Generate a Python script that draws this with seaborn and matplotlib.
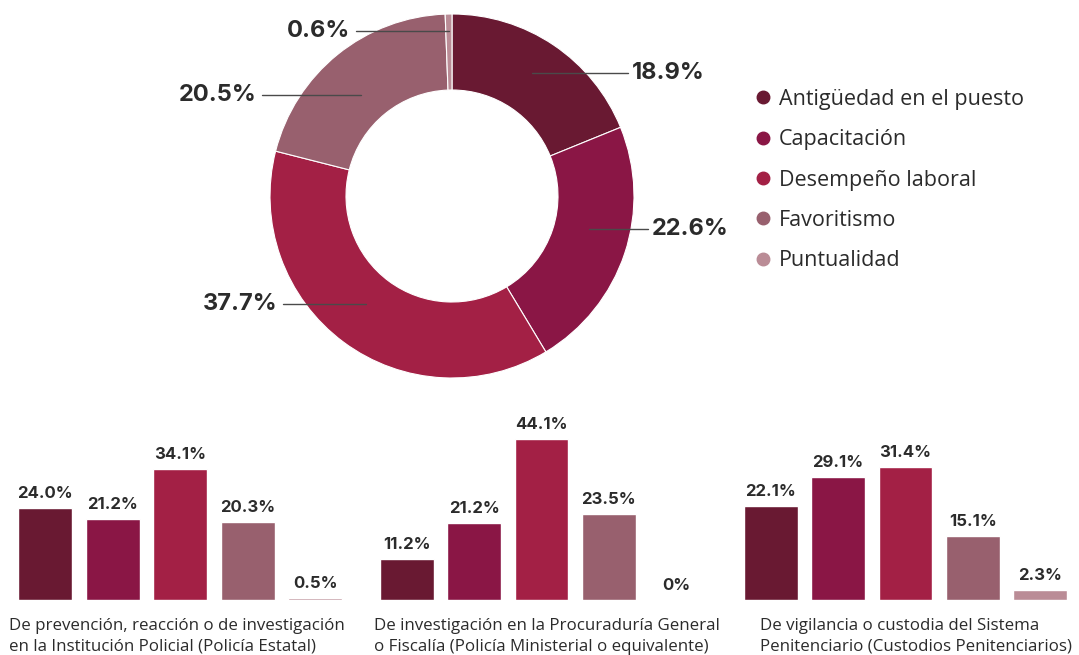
import matplotlib
matplotlib.use("Agg")
import matplotlib.pyplot as plt
from matplotlib.lines import Line2D
import numpy as np
import pandas as pd
import seaborn as sns

# ---- data -----------------------------------------------------------------
categories = ["Antigüedad en el puesto", "Capacitación", "Desempeño laboral",
              "Favoritismo", "Puntualidad"]
colors = ["#691932", "#8A1645", "#A32045", "#98606E", "#BA8C96"]

total_values = [18.9, 22.6, 37.7, 20.5, 0.6]

panel_titles = [
    "De prevención, reacción o de investigación\nen la Institución Policial (Policía Estatal)",
    "De investigación en la Procuraduría General\no Fiscalía (Policía Ministerial o equivalente)",
    "De vigilancia o custodia del Sistema\nPenitenciario (Custodios Penitenciarios)",
]
estatal_values = [24.0, 21.2, 34.1, 20.3, 0.5]
ministerial_values = [11.2, 21.2, 44.1, 23.5, 0.0]
custodios_values = [22.1, 29.1, 31.4, 15.1, 2.3]
panel_values = [estatal_values, ministerial_values, custodios_values]

# ---- style ----------------------------------------------------------------
sns.set_theme(style="white")
plt.rcParams["font.family"] = ["Open Sans", "DejaVu Sans"]
BOLD = ["Inter", "DejaVu Sans"]
TEXT = "#2b2b2b"

W, H = 1079, 655
fig = plt.figure(figsize=(W / 100, H / 100), dpi=100)
fig.patch.set_facecolor("white")


def fx(x):
    return x / W


def fy(y):
    return 1 - y / H


# ---- donut ----------------------------------------------------------------
ax0 = fig.add_axes([0, 0, 1, 1])
cx, cy = 452, H - 196
r_out, r_in = 182, 106
wedges, _ = ax0.pie(total_values, colors=colors, startangle=90, counterclock=False,
                    center=(cx, cy), radius=r_out, frame=True,
                    wedgeprops=dict(width=r_out - r_in, edgecolor="white", linewidth=0.8))
ax0.set_xlim(0, W)
ax0.set_ylim(0, H)
ax0.axis("off")

# label placement: (vertical position of label, line start x, side)
label_layout = [(73, 628, "left"), (229, 648, "left"), (304, 283, "right"),
                (95, 262, "right"), (31, 356, "right")]
r_mid = (r_out + r_in) / 2
for w, val, (ly, lx, side) in zip(wedges, total_values, label_layout):
    ang = np.deg2rad((w.theta1 + w.theta2) / 2)
    ax_ = cx + r_mid * np.cos(ang)
    y_ = H - ly
    ax0.plot([lx, ax_], [y_, y_], color="#4a4a4a", lw=1.0)
    if side == "left":
        ax0.text(lx + 4, y_, f"{val:.1f}%", ha="left", va="center",
                 fontsize=17, fontweight="bold", family=BOLD, color=TEXT)
    else:
        ax0.text(lx - 6, y_, f"{val:.1f}%", ha="right", va="center",
                 fontsize=17, fontweight="bold", family=BOLD, color=TEXT)

handles = [Line2D([], [], marker="o", linestyle="", markersize=9,
                  markerfacecolor=c, markeredgecolor=c) for c in colors]
ax0.legend(handles, categories, loc="upper left",
           bbox_to_anchor=(fx(743), fy(78)), bbox_transform=fig.transFigure,
           frameon=False, fontsize=15.5, labelspacing=0.9, handletextpad=0.25,
           handlelength=0.9, borderpad=0, labelcolor=TEXT)

# ---- bar panels -----------------------------------------------------------
panel_boxes = [(11.5, 349, 469), (373, 710, 439), (737, 1074, 467)]
caption_shift = [-3, 5, 10]
base_y = 600
for vals, title, (x0, x1, ytop), dx in zip(panel_values, panel_titles,
                                           panel_boxes, caption_shift):
    ax = fig.add_axes([fx(x0), fy(base_y), (x1 - x0) / W, (base_y - ytop) / H])
    df = pd.DataFrame({"cat": categories, "val": vals})
    sns.barplot(data=df, x="cat", y="val", hue="cat", palette=colors,
                legend=False, width=0.8, saturation=1, ax=ax)
    ax.set_ylim(0, max(vals))
    ax.set_xlim(-0.5, len(vals) - 0.5)
    ax.axis("off")
    for cont in ax.containers:
        ax.bar_label(cont, labels=[("0%" if v == 0 else f"{v:.1f}%") for v in cont.datavalues],
                     padding=5, fontsize=12, fontweight="bold", family=BOLD,
                     color=TEXT, clip_on=False)
    ax.annotate(title, xy=(0.5, 0), xycoords="axes fraction",
                xytext=(dx * 0.72, -13), textcoords="offset points", ha="center", va="top",
                multialignment="left", fontsize=12.2, color=TEXT, linespacing=1.38)

fig.savefig("out.png", dpi=100, facecolor="white")
